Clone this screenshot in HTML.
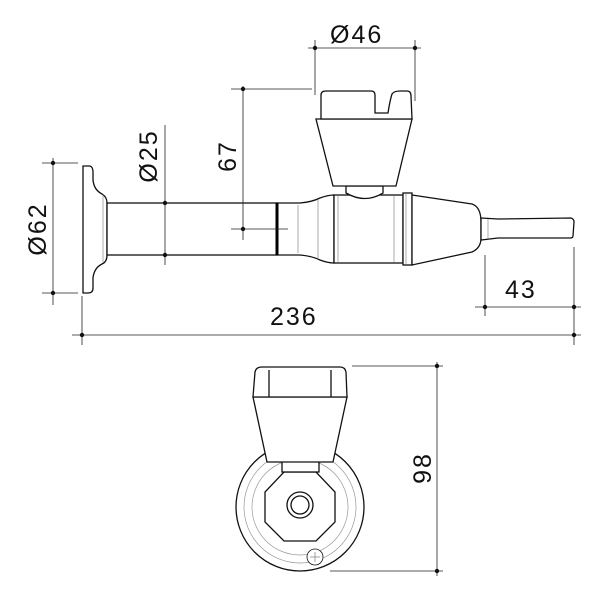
<!DOCTYPE html>
<html><head><meta charset="utf-8"><style>
html,body{margin:0;padding:0;background:#fff;}
svg{display:block}
text{font-family:"Liberation Sans",sans-serif;font-size:25px;fill:#111;letter-spacing:2px}
</style></head><body>
<svg width="600" height="600" viewBox="0 0 600 600" xmlns="http://www.w3.org/2000/svg">
<!-- side view -->
<g stroke="#111" stroke-width="1.3" fill="#fff">
<path d="M83,166 L90,166 Q93,167 93,172 L93,180 Q94,190 102,194 Q107,197 107,203 L107,255 Q107,262 102,264 Q94,268 93,278 L93,288 Q93,293 88,293 L83,293 Z"/>
<rect x="107" y="203" width="170" height="52"/>
<path d="M277,203 L300,203 Q312,202 320,198 Q328,195 334,195 L334,263 Q328,263 320,260 Q312,256 300,255 L277,255 Z"/>
<rect x="334" y="195" width="69" height="68"/>
<rect x="403" y="193" width="9" height="72"/>
<path d="M412,195 L472,204 Q481,207 481,222 L481,238 Q481,248 472,252 L412,265 Z"/>
<path d="M481,218 L498,219 L571,218 Q574,219 574,222 L573,236 Q573,238 570,238 L498,238 L481,240 Z"/>
<path d="M346,186 L383,186 L383,193 Q365,204 346,193 Z"/>
<path d="M316,119 L412,119 L396,186 L333,186 Z"/>
<path d="M321,119 L321,95 Q321,91 326,91 L371,91 Q375,91 375,95 L375,113 L388,113 Q390,100 392,94 Q394,91 400,91 L407,91 Q411,91 411,96 L412,119 Z"/>
</g>
<line x1="277" y1="203" x2="277" y2="255" stroke="#000" stroke-width="3"/>
<g stroke="#888" stroke-width="0.7">
<line x1="103" y1="196" x2="103" y2="262"/><line x1="298" y1="205" x2="298" y2="253"/><line x1="318" y1="200" x2="318" y2="258"/>
<line x1="394" y1="196" x2="394" y2="262"/><line x1="338" y1="196" x2="338" y2="262"/><line x1="406" y1="194" x2="406" y2="264"/>
<line x1="488" y1="219" x2="488" y2="239"/>
</g>
<!-- end view -->
<g stroke="#111" stroke-width="1.3" fill="#fff">
<circle cx="300" cy="507" r="64"/>
</g>
<g stroke="#999" stroke-width="0.7" fill="none">
<circle cx="300" cy="507" r="56"/><circle cx="300" cy="507" r="48"/><circle cx="300" cy="507" r="22"/>
</g>
<g stroke="#111" stroke-width="1.3" fill="#fff">
<polygon points="284,472 316,472 335,492 335,522 316,541 284,541 265,522 265,492"/>
<circle cx="300" cy="505" r="13"/><circle cx="300" cy="505" r="9"/>
<rect x="282" y="458" width="37" height="14"/>
<path d="M253,397 L347,397 L333,462 L267,462 Z"/>
<path d="M253,397 L255,372 Q256,367 262,367 L340,367 Q345,367 346,372 L347,397 Z"/>
<line x1="269" y1="370" x2="269" y2="397"/><line x1="331" y1="370" x2="331" y2="397"/>
<circle cx="315" cy="557" r="8" stroke-width="0.8"/>
</g>
<g stroke="#666" stroke-width="0.6"><line x1="310" y1="557" x2="320" y2="557"/><line x1="315" y1="552" x2="315" y2="562"/></g>
<g stroke="#222" stroke-width="0.8" fill="none">
<!-- dimension lines -->
<line x1="53" y1="158" x2="53" y2="305"/><line x1="42" y1="163" x2="78" y2="163"/><line x1="42" y1="293" x2="78" y2="293"/>
<line x1="165" y1="125" x2="165" y2="265"/>
<line x1="243" y1="86" x2="243" y2="240"/><line x1="231" y1="89" x2="312" y2="89"/><line x1="231" y1="229" x2="288" y2="229"/>
<line x1="315" y1="40" x2="315" y2="95"/><line x1="415" y1="40" x2="415" y2="101"/><line x1="308" y1="48" x2="421" y2="48"/>
<line x1="485" y1="255" x2="485" y2="316"/><line x1="574" y1="247" x2="574" y2="345"/><line x1="475" y1="307" x2="581" y2="307"/>
<line x1="82" y1="296" x2="82" y2="345"/><line x1="72" y1="335" x2="581" y2="335"/>
<line x1="437" y1="362" x2="437" y2="576"/><line x1="352" y1="366" x2="443" y2="366"/><line x1="330" y1="571" x2="443" y2="571"/>
</g>
<g fill="#111">
<circle cx="53" cy="163" r="2.2"/><circle cx="53" cy="293" r="2.2"/>
<circle cx="165" cy="203" r="2.2"/><circle cx="165" cy="255" r="2.2"/>
<circle cx="243" cy="89" r="2.2"/><circle cx="243" cy="229" r="2.2"/>
<circle cx="315" cy="48" r="2.2"/><circle cx="415" cy="48" r="2.2"/>
<circle cx="485" cy="307" r="2.2"/><circle cx="574" cy="307" r="2.2"/>
<circle cx="82" cy="335" r="2.2"/><circle cx="574" cy="335" r="2.2"/>
<circle cx="437" cy="366" r="2.2"/><circle cx="437" cy="571" r="2.2"/>
</g>
<!-- labels -->
<text x="330" y="43">Ø46</text>
<text x="270" y="325">236</text>
<text x="505" y="298">43</text>
<text transform="translate(46,229) rotate(-90)" text-anchor="middle">Ø62</text>
<text transform="translate(157,156) rotate(-90)" text-anchor="middle">Ø25</text>
<text transform="translate(236,156) rotate(-90)" text-anchor="middle">67</text>
<text transform="translate(431,468) rotate(-90)" text-anchor="middle">98</text>
</svg>
</body></html>
